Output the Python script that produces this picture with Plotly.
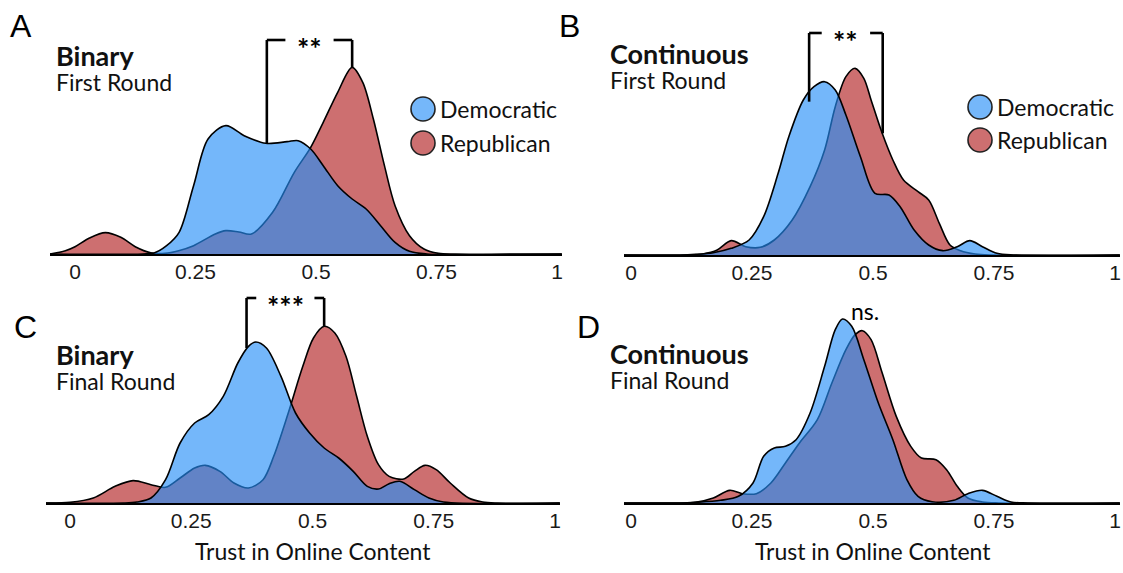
import plotly.graph_objects as go

W, H = 1123, 573

# ---------------- data ----------------
tick_vals = [0, 0.25, 0.5, 0.75, 1]
tick_text = ["0", "0.25", "0.5", "0.75", "1"]
party_names = ["Democratic", "Republican"]

# Panel A: Binary, First Round
A_dem_x = [-0.052, 0.14, 0.164, 0.19, 0.216, 0.246, 0.276, 0.313, 0.351, 0.396, 0.44, 0.463, 0.489,
           0.515, 0.545, 0.575, 0.604, 0.634, 0.664, 0.694, 0.73, 1.01]
A_dem_y = [0, 0, 0.03, 0.25, 0.65, 2.05, 3.45, 3.85, 3.55, 3.32, 3.37, 3.40, 3.15,
           2.65, 2.05, 1.65, 1.35, 0.85, 0.35, 0.08, 0, 0]
A_rep_x = [-0.052, -0.02, 0.0, 0.03, 0.063, 0.095, 0.125, 0.157, 0.187, 0.215, 0.246, 0.291, 0.313,
           0.34, 0.366, 0.41, 0.455, 0.489, 0.515, 0.545, 0.575, 0.597, 0.619, 0.642, 0.664, 0.694,
           0.724, 0.754, 0.79, 1.01]
A_rep_y = [0, 0.1, 0.22, 0.48, 0.64, 0.5, 0.22, 0.04, 0.02, 0.1, 0.25, 0.6, 0.7,
           0.66, 0.6, 1.25, 2.45, 3.2, 3.95, 4.85, 5.6, 5.15, 4.05, 2.65, 1.45, 0.55,
           0.15, 0.02, 0, 0]

# Panel B: Continuous, First Round
B_dem_x = [-0.015, 0.10, 0.133, 0.17, 0.207, 0.244, 0.274, 0.304, 0.326, 0.356, 0.378, 0.40, 0.422,
           0.444, 0.474, 0.504, 0.533, 0.556, 0.585, 0.615, 0.644, 0.674, 0.70, 0.726, 0.756, 0.79, 1.01]
B_dem_y = [0, 0, 0.02, 0.07, 0.2, 0.45, 1.15, 2.45, 3.55, 4.65, 5.05, 5.2, 4.95,
           4.2, 2.95, 1.85, 1.8, 1.45, 0.75, 0.3, 0.13, 0.25, 0.43, 0.25, 0.05, 0, 0]
B_rep_x = [-0.015, 0.12, 0.148, 0.178, 0.207, 0.237, 0.267, 0.296, 0.333, 0.37, 0.40, 0.422, 0.444,
           0.463, 0.481, 0.496, 0.519, 0.541, 0.563, 0.593, 0.615, 0.637, 0.659, 0.681, 0.711, 0.74, 1.01]
B_rep_y = [0, 0, 0.03, 0.15, 0.43, 0.25, 0.23, 0.45, 1.05, 2.05, 3.15, 4.45, 5.35,
           5.6, 5.3, 4.65, 3.65, 2.85, 2.25, 1.9, 1.65, 0.95, 0.3, 0.13, 0.03, 0, 0]

# Panel C: Binary, Final Round
C_dem_x = [-0.05, 0.11, 0.138, 0.167, 0.197, 0.227, 0.257, 0.286, 0.316, 0.346, 0.368, 0.383, 0.405,
           0.435, 0.465, 0.494, 0.524, 0.554, 0.584, 0.613, 0.636, 0.658, 0.68, 0.71, 0.74, 0.77, 1.01]
C_dem_y = [0, 0, 0.03, 0.15, 0.7, 1.8, 2.4, 2.65, 3.2, 4.2, 4.7, 4.83, 4.65,
           3.8, 2.7, 2.1, 1.65, 1.35, 0.95, 0.5, 0.42, 0.58, 0.65, 0.4, 0.15, 0.03, 0]
C_rep_x = [-0.05, 0.0, 0.048, 0.093, 0.13, 0.167, 0.197, 0.227, 0.257, 0.279, 0.309, 0.338, 0.368,
           0.398, 0.42, 0.45, 0.48, 0.502, 0.524, 0.546, 0.569, 0.591, 0.613, 0.636, 0.658, 0.688,
           0.71, 0.732, 0.755, 0.784, 0.822, 0.851, 0.88, 1.01]
C_rep_y = [0, 0.02, 0.15, 0.5, 0.67, 0.55, 0.47, 0.75, 1.05, 1.13, 0.95, 0.6, 0.45,
           0.7, 1.4, 2.7, 4.1, 4.95, 5.3, 5.1, 4.4, 3.2, 2.0, 1.15, 0.8, 0.72,
           0.95, 1.13, 1.0, 0.6, 0.15, 0.03, 0, 0]

# Panel D: Continuous, Final Round
D_dem_x = [-0.015, 0.10, 0.133, 0.185, 0.222, 0.252, 0.274, 0.296, 0.319, 0.341, 0.37, 0.40, 0.422,
           0.437, 0.456, 0.481, 0.511, 0.541, 0.57, 0.593, 0.622, 0.667, 0.696, 0.726, 0.756, 0.785,
           0.82, 1.01]
D_dem_y = [0, 0, 0.02, 0.08, 0.2, 0.6, 1.4, 1.65, 1.7, 1.9, 2.7, 4.1, 5.2,
           5.52, 5.3, 4.3, 3.0, 1.9, 0.7, 0.2, 0.04, 0.08, 0.28, 0.38, 0.2, 0.03,
           0, 0]
D_rep_x = [-0.015, 0.10, 0.133, 0.17, 0.204, 0.23, 0.259, 0.289, 0.319, 0.348, 0.385, 0.415, 0.444,
           0.463, 0.478, 0.496, 0.519, 0.548, 0.578, 0.60, 0.63, 0.652, 0.674, 0.696, 0.726, 0.76, 1.01]
D_rep_y = [0, 0, 0.02, 0.15, 0.38, 0.28, 0.28, 0.6, 1.2, 1.8, 2.5, 3.6, 4.6,
           5.05, 5.17, 4.9, 3.9, 2.6, 1.7, 1.35, 1.3, 1.0, 0.5, 0.15, 0.03, 0, 0]

# significance brackets: (left x, left bottom y, right x, right bottom y, top y, label)
brackets = {
    "A": (0.398, 3.33, 0.575, 5.6, 6.42, "**"),
    "B": (0.368, 4.6, 0.520, 3.65, 6.66, "**"),
    "C": (0.364, 4.65, 0.524, 5.3, 6.15, "***"),
}
ns_label = ("D", 0.484, 5.75, "ns.")

panel_titles = {"A": ("Binary", "First Round"), "B": ("Continuous", "First Round"),
                "C": ("Binary", "Final Round"), "D": ("Continuous", "Final Round")}
x_title = "Trust in Online Content"

# ---------------- styles ----------------
RED_FILL = "rgb(205,111,112)"
BLUE_FILL = "rgba(38,142,247,0.64)"
BLUE_SOLID = "rgb(117,183,250)"
TXT = "Lato"
NUM = "Liberation Sans"


def px(x):
    return x / W


def py(y):
    return 1 - y / H


# pixel layout of each panel: x-domain px, y-domain px, x-range
panels = {
    "A": dict(ax="", xd=(50, 562), yd=(20, 254), xr=(-0.0519, 1.0104)),
    "B": dict(ax="2", xd=(624, 1120), yd=(20, 255), xr=(-0.0145, 1.0103)),
    "C": dict(ax="3", xd=(46, 560), yd=(269, 503), xr=(-0.0495, 1.0103)),
    "D": dict(ax="4", xd=(624, 1120), yd=(269, 503), xr=(-0.0145, 1.0103)),
}
series = {
    "A": (A_dem_x, A_dem_y, A_rep_x, A_rep_y),
    "B": (B_dem_x, B_dem_y, B_rep_x, B_rep_y),
    "C": (C_dem_x, C_dem_y, C_rep_x, C_rep_y),
    "D": (D_dem_x, D_dem_y, D_rep_x, D_rep_y),
}
PX_PER_UNIT = 100 / 3.0

fig = go.Figure()
layout = dict(width=W, height=H, margin=dict(l=0, r=0, t=0, b=0),
              paper_bgcolor="white", plot_bgcolor="rgba(0,0,0,0)", showlegend=False,
              hovermode=False)
shapes, annotations = [], []

for key, p in panels.items():
    ax = p["ax"]
    dx, dy, rx, ry = series[key]
    xa, ya = "x" + ax, "y" + ax
    line = dict(color="black", width=1.6, shape="spline", smoothing=0.9)
    fig.add_trace(go.Scatter(x=rx, y=ry, mode="lines", line=line, fill="tozeroy",
                             fillcolor=RED_FILL, xaxis=xa, yaxis=ya, name=party_names[1]))
    fig.add_trace(go.Scatter(x=dx, y=dy, mode="lines", line=line, fill="tozeroy",
                             fillcolor=BLUE_FILL, xaxis=xa, yaxis=ya, name=party_names[0]))
    ymax = (p["yd"][1] - p["yd"][0]) / PX_PER_UNIT
    layout["xaxis" + ax] = dict(domain=[px(p["xd"][0]), px(p["xd"][1])], range=list(p["xr"]),
                                anchor=ya, showgrid=False, zeroline=False, showline=True,
                                linecolor="black", linewidth=1.6, ticks="",
                                tickvals=tick_vals, ticktext=tick_text,
                                tickfont=dict(family=NUM, size=21, color="#1a1a1a"),
                                ticklabelstandoff=-2)
    layout["yaxis" + ax] = dict(domain=[py(p["yd"][1]), py(p["yd"][0])], range=[0, ymax],
                                anchor=xa, visible=False)

# brackets
for key, (xl, yl, xr_, yr, yt, lab) in brackets.items():
    ax = panels[key]["ax"]
    xa, ya = "x" + ax, "y" + ax
    mid = (xl + xr_) / 2
    gap = 0.05 if len(lab) == 2 else 0.06
    for (x0, y0, x1, y1) in [(xl, yl, xl, yt), (xl, yt, mid - gap, yt),
                             (mid + gap, yt, xr_, yt), (xr_, yt, xr_, yr)]:
        shapes.append(dict(type="line", xref=xa, yref=ya, x0=x0, y0=y0, x1=x1, y1=y1,
                           line=dict(color="black", width=2.6)))
    annotations.append(dict(xref=xa, yref=ya, x=mid, y=yt, text="<b>" + lab + "</b>",
                            showarrow=False, xanchor="center", yanchor="middle", yshift=-7,
                            font=dict(family=TXT, size=29, color="black")))

k, nx, ny, nt = ns_label
annotations.append(dict(xref="x" + panels[k]["ax"], yref="y" + panels[k]["ax"], x=nx, y=ny,
                        text=nt, showarrow=False, xanchor="center", yanchor="middle",
                        font=dict(family=TXT, size=23, color="black")))

# panel letters and titles (two-line text: bold title + round)
letter_pos = {"A": (21, 26), "B": (569, 26), "C": (25, 327), "D": (588, 327)}
title_pos = {"A": (54, 57), "B": (608, 55), "C": (54, 356), "D": (608, 355)}
for key in panels:
    lx, ly = letter_pos[key]
    annotations.append(dict(xref="paper", yref="paper", x=px(lx), y=py(ly), text=key,
                            showarrow=False, xanchor="center", yanchor="middle",
                            font=dict(family=NUM, size=32, color="black")))
    tx, t1 = title_pos[key]
    b, s = panel_titles[key]
    annotations.append(dict(xref="paper", yref="paper", x=px(tx), y=py(t1 - 20),
                            text="<b><span style='font-size:27px'>" + b + "</span></b><br>"
                                 "<span style='font-size:23px'>" + s + "</span>",
                            showarrow=False, xanchor="left", yanchor="top", align="left",
                            font=dict(family=TXT, size=19, color="#111111")))

# legends (A and B)
legend_pos = {"A": (423, 109, 143), "B": (980, 107, 140)}
for key, (cx, c1, c2) in legend_pos.items():
    for cy, col, name in [(c1, BLUE_SOLID, party_names[0]), (c2, RED_FILL, party_names[1])]:
        r = 12
        shapes.append(dict(type="circle", xref="paper", yref="paper",
                           x0=px(cx - r), x1=px(cx + r), y0=py(cy + r), y1=py(cy - r),
                           fillcolor=col, line=dict(color="#222222", width=1.6)))
        annotations.append(dict(xref="paper", yref="paper", x=px(cx + 15), y=py(cy), text=name,
                                showarrow=False, xanchor="left", yanchor="middle",
                                font=dict(family=TXT, size=23, color="#111111")))

# x-axis titles (bottom row)
for key in ["C", "D"]:
    annotations.append(dict(xref="x" + panels[key]["ax"], yref="paper", x=0.5, y=py(551),
                            text=x_title, showarrow=False, xanchor="center", yanchor="middle",
                            font=dict(family=TXT, size=23, color="#111111")))

layout["shapes"] = shapes
layout["annotations"] = annotations
fig.update_layout(**layout)
fig.write_html("out.html",
               config={"displayModeBar": False, "staticPlot": True},
               post_script="document.body.style.margin='0';"
                           "document.body.style.overflow='hidden';"
                           "document.documentElement.style.overflow='hidden';")
